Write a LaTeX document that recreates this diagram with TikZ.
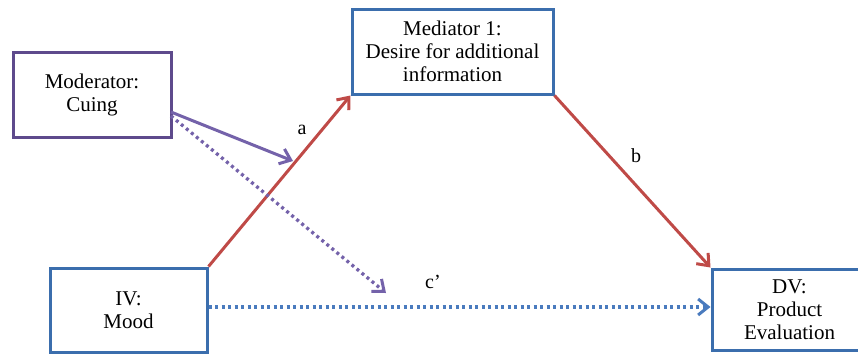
\documentclass[tikz,border=0pt]{standalone}
\usepackage{fontspec}
\setmainfont{Liberation Serif}
\usetikzlibrary{arrows.meta}
\definecolor{boxblue}{HTML}{3B6EAD}
\definecolor{boxpurple}{HTML}{5E4A8C}
\definecolor{arrpurple}{HTML}{7462AA}
\definecolor{arrred}{HTML}{BF4A47}
\definecolor{arrblue}{HTML}{4A7BBE}
\tikzset{
  x=1pt, y=-1pt,
  boxnode/.style={draw=boxblue, line width=3pt, fill=white, align=center,
    font=\fontsize{21}{23}\selectfont, inner sep=0pt},
  lbl/.style={font=\fontsize{20}{23}\selectfont, inner sep=0pt},
  tip/.style={-{Straight Barb[length=10pt,width=16pt,line width=3pt]}},
  redarr/.style={tip, draw=arrred, line width=3pt},
  purarr/.style={tip, draw=arrpurple, line width=3pt},
  dotarr/.style={line width=3.3pt, dash pattern=on 3pt off 3.5pt},
}
\begin{document}
\begin{tikzpicture}
\useasboundingbox (0,0) rectangle (858,354);
\clip (0,0) rectangle (858,354);
\node[boxnode, draw=boxpurple, minimum width=158pt, minimum height=85pt] (mod) at (92,94.5) {Moderator:\\Cuing};
\node[boxnode, minimum width=201pt, minimum height=85pt] (med) at (452.5,51.5) {Mediator 1:\\Desire for additional\\information};
\node[boxnode, minimum width=157pt, minimum height=84pt] (iv) at (128.5,310) {IV:\\Mood};
\node[boxnode, minimum width=155pt, minimum height=81pt] (dv) at (789.5,309.5) {DV:\\Product\\Evaluation};
\coordinate (ps) at (171,112);
\coordinate (pe) at (293,161);
\coordinate (ds) at (171,116);
\coordinate (de) at (386,293);
\draw[redarr] (iv.north east) -- (med.south west);
\draw[redarr] (med.south east) -- (dv.north west);
\draw[purarr] (ps) -- (pe);
\draw[purarr, dotarr] (ds) -- (de);
\draw[tip, draw=arrblue, dotarr] ([yshift=3pt]iv.east) -- ([yshift=3pt]iv.east -| dv.west);
\node[lbl] (la) at (302,130) {a};
\node[lbl] (lb) at (636,156) {b};
\node[lbl] (lc) at (433,282) {c’};
\end{tikzpicture}
\end{document}
